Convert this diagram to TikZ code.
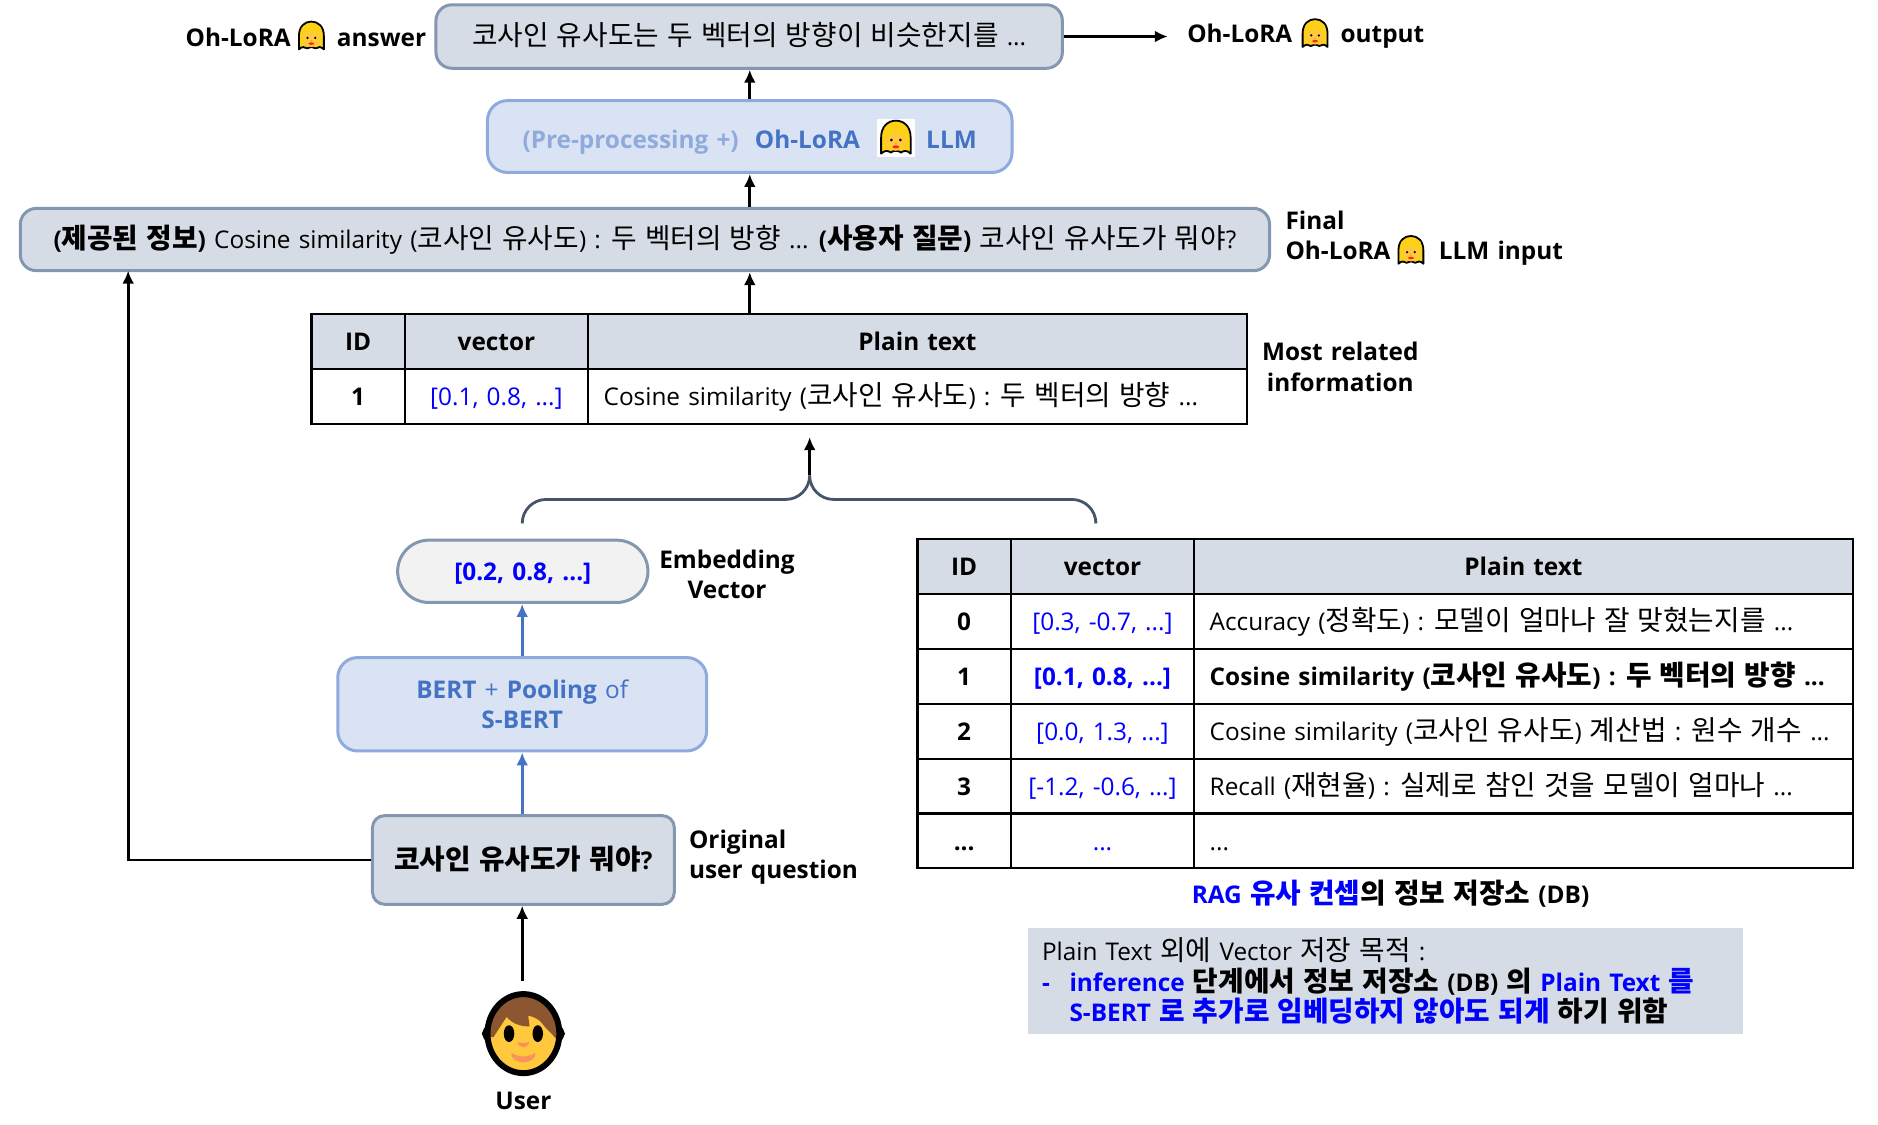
\documentclass[tikz,border=0pt]{standalone}
\usepackage{fontspec}
\setmainfont{Open Sans}[WordSpace=1.3]
\newfontfamily\hangulfam{Noto Sans CJK KR}[Scale=1.14]
\usetikzlibrary{arrows.meta}

% Hangul runs switch to the CJK family
\chardef\hangulclass=7
\count255="AC00
\loop
    \XeTeXcharclass\count255=\hangulclass
    \ifnum\count255<"D7A3
    \advance\count255 by 1
\repeat
\XeTeXinterchartoks 0 \hangulclass = {\begingroup\hangulfam}
\XeTeXinterchartoks 4095 \hangulclass = {\begingroup\hangulfam}
\XeTeXinterchartoks \hangulclass 0 = {\endgroup}
\XeTeXinterchartoks \hangulclass 4095 = {\endgroup}
\XeTeXinterchartokenstate=1

\definecolor{slatefill}{HTML}{D6DCE5}
\definecolor{slateline}{HTML}{8497B0}
\definecolor{paleblue}{HTML}{DAE3F3}
\definecolor{midblue}{HTML}{8FAADC}
\definecolor{deepblue}{HTML}{4472C4}
\definecolor{purered}{HTML}{0000FF}
\definecolor{bracecolor}{HTML}{44546A}
\definecolor{hairyellow}{HTML}{FCD116}
\definecolor{skinyellow}{HTML}{FFC83D}
\definecolor{skinorange}{HTML}{F7945A}
\definecolor{hairbrown}{HTML}{8C5730}

\tikzset{
    every node/.style={font=\fontsize{12.2}{15.3}\selectfont},
    oneline/.style={text height=10pt, text depth=.7pt},
    lbl/.style={inner sep=0pt, font=\fontsize{12.2}{15.3}\selectfont\bfseries, align=center},
    lblone/.style={inner sep=0pt, font=\fontsize{12.2}{15.3}\selectfont\bfseries, oneline},
    slatebox/.style={draw=slateline, fill=slatefill, line width=1.5pt, rounded corners=8pt, inner sep=0pt, oneline},
    bluebox/.style={draw=midblue, fill=paleblue, line width=1.5pt, rounded corners=10pt, inner sep=0pt},
    idcol/.style={draw=black, line width=1.1pt, inner sep=0pt, minimum width=46.8pt, minimum height=27.5pt, oneline},
    vectorcol/.style={draw=black, line width=1.1pt, inner sep=0pt, minimum width=91.8pt, minimum height=27.5pt, oneline},
    plaincol/.style={draw=black, line width=1.1pt, inner ysep=0pt, inner xsep=7.8pt, text width=314.4pt, align=flush left, minimum height=27.5pt, oneline},
    headcell/.style={fill=slatefill, font=\fontsize{12.2}{15.3}\selectfont\bfseries},
    arrowblk/.style={-{Latex[length=6.5pt,width=6pt]}, line width=1.4pt},
    arrowblue/.style={-{Latex[length=6.5pt,width=6pt]}, line width=1.4pt, draw=deepblue},
    pics/ohface/.style={code={
        \draw[fill=hairyellow, line width=.9pt, line join=round] (-13,14) -- (-13,0) .. controls (-13,-10) and (-7,-15) .. (0,-15) .. controls (7,-15) and (13,-10) .. (13,0) -- (13,14) .. controls (10,11) and (7,11) .. (4.5,13) .. controls (2,11) and (-2,11) .. (-4.5,13) .. controls (-7,11) and (-10,11) .. (-13,14) -- cycle;
        \fill[skinyellow] (0,2.5) circle (9);
        \fill[hairyellow] (-10,3) .. controls (-8,-2) and (-3,-3) .. (0,-5) .. controls (3,-3) and (8,-2) .. (10,3) -- (10,-9) -- (-10,-9) -- cycle;
        \fill (-4,2) circle (1.3);
        \fill (4,2) circle (1.3);
        \fill[skinorange] (0,5) circle (1);
        \fill[red!70!orange] (0,8) ellipse (3 and 1.3);
    }},
    pics/userface/.style={code={
        \fill[skinyellow, draw=black, line width=3pt] (-28,0) circle (4);
        \fill[skinyellow, draw=black, line width=3pt] (28,0) circle (4);
        \begin{scope}
            \clip (0,0) ellipse (30 and 33);
            \fill[skinyellow] (-35,-40) rectangle (35,40);
            \fill[hairbrown] (-25,3) -- (-14,-14) .. controls (-9,-8) and (-2,-6) .. (5,-6) .. controls (5,-10) and (4,-12) .. (4,-15) .. controls (10,-14) and (14,-11) .. (16,-8) .. controls (19,-4) and (24,0) .. (27,4) -- (35,4) -- (35,-40) -- (-35,-40) -- (-35,3) -- cycle;
        \end{scope}
        \draw[line width=3pt] (0,0) ellipse (30 and 33);
        \fill (-12,0) ellipse (4.4 and 7);
        \fill (12,0) ellipse (4.4 and 7);
        \fill[skinorange] (-5,7) .. controls (-2,8) and (2,8) .. (5,7) .. controls (3,13) and (-3,13) .. (-5,7) -- cycle;
        \fill[skinorange] (-10,16) .. controls (-4,20) and (4,20) .. (10,16) .. controls (11,20) and (6,24) .. (0,24) .. controls (-6,24) and (-11,20) .. (-10,16) -- cycle;
    }},
}

\begin{document}
\begin{tikzpicture}[x=0.6pt, y=-0.6pt]
    \useasboundingbox (0,0) rectangle (1568,938.5);

    % answer and LLM boxes
    \node[slatebox, minimum width=313.8pt, minimum height=31.8pt] (answer) at (625.5,30.5) {코사인 유사도는 두 벡터의 방향이 비슷한지를 ...};
    \node[bluebox, minimum width=262.8pt, minimum height=36pt] (llm) at (626,114) {};
    \node[lblone, anchor=west, text=midblue] (llmpre) at (436,116) {(Pre-processing +)};
    \node[lblone, anchor=west, text=deepblue] (llmoh) at (630,116) {Oh-LoRA};
    \node[anchor=center, fill=white, inner sep=0pt, minimum size=19.2pt] (llmemoji) at (748,115) {};
    \pic[scale=.95] at (748,115) {ohface};
    \node[lblone, anchor=west, text=deepblue] (llmname) at (773,116) {LLM};

    \node[lblone, anchor=east] (ansoh) at (243,31) {Oh-LoRA};
    \pic[scale=.8] at (260,30) {ohface};
    \node[lblone, anchor=west] (answord) at (281,31) {answer};

    \node[lblone, anchor=west] (outoh) at (991,28) {Oh-LoRA};
    \pic[scale=.8] at (1098,28) {ohface};
    \node[lblone, anchor=west] (outword) at (1119,28) {output};

    % final input
    \node[slatebox, minimum width=625.8pt, minimum height=31.2pt] (input) at (538.5,200) {\textbf{(제공된 정보)} Cosine similarity (코사인 유사도) : 두 벡터의 방향 ... \textbf{(사용자 질문)} 코사인 유사도가 뭐야?};
    \node[lblone, anchor=west] (finalword) at (1073,184) {Final};
    \node[lblone, anchor=west] (finaloh) at (1073,209) {Oh-LoRA};
    \pic[scale=.8] at (1178,209) {ohface};
    \node[lblone, anchor=west] (finalllm) at (1201,209) {LLM input};

    % most related table
    \node[idcol, headcell] (infoidh) at (299,285) {ID};
    \node[vectorcol, headcell] (infovech) at (414.5,285) {vector};
    \node[plaincol, headcell, align=center] (infoplainh) at (766,285) {Plain text};
    \node[idcol, font=\fontsize{12.2}{15.3}\selectfont\bfseries] (infoid) at (299,331) {1};
    \node[vectorcol, text=purered] (infovec) at (414.5,331) {[0.1, 0.8, ...]};
    \node[plaincol] (infoplain) at (766,331) {Cosine similarity (코사인 유사도) : 두 벡터의 방향 ...};
    \node[lbl] (relatedword) at (1119,306.5) {Most related\\information};

    % question side
    \node[draw=slateline, fill=black!5, line width=1.5pt, rounded corners=15.6pt, inner sep=0pt, minimum width=125.4pt, minimum height=31.2pt, text=purered, oneline, font=\fontsize{12.2}{15.3}\selectfont\bfseries] (embed) at (436.5,477) {[0.2, 0.8, ...]};
    \node[lbl] (embedword) at (607,479.5) {Embedding\\Vector};
    \node[bluebox, minimum width=184.8pt, minimum height=46.8pt, align=center, text=deepblue, font=\fontsize{12.2}{15.3}\selectfont] (bert) at (436,588) {\textbf{BERT} + \textbf{Pooling} of\\\textbf{S-BERT}};
    \node[slatebox, rounded corners=6pt, minimum width=151.2pt, minimum height=44.4pt, font=\fontsize{12.2}{15.3}\selectfont\bfseries] (question) at (437,718) {코사인 유사도가 뭐야?};
    \node[lbl, anchor=west, align=left] (originalword) at (575,715.5) {Original\\user question};

    \pic at (437,863) {userface};
    \node[lblone] (userword) at (437,919) {User};
    \coordinate (usertop) at (436,819);

    % DB table
    \node[idcol, headcell] (dbidh) at (805,473) {ID};
    \node[vectorcol, headcell] (dbvech) at (920.5,473) {vector};
    \node[plaincol, headcell, align=center] (dbplainh) at (1272,473) {Plain text};
    \foreach \rowy/\rowid/\rowvec/\rowtext in {
        519/0/{[0.3, -0.7, ...]}/{Accuracy (정확도) : 모델이 얼마나 잘 맞혔는지를 ...},
        565/1/{\textbf{[0.1, 0.8, ...]}}/{\textbf{Cosine similarity (코사인 유사도) : 두 벡터의 방향 ...}},
        610.5/2/{[0.0, 1.3, ...]}/{Cosine similarity (코사인 유사도) 계산법 : 원수 개수 ...},
        656.5/3/{[-1.2, -0.6, ...]}/{Recall (재현율) : 실제로 참인 것을 모델이 얼마나 ...},
        702/4/{...}/{...}}
    {
        \node[idcol, font=\fontsize{12.2}{15.3}\selectfont\bfseries] (dbid\rowid) at (805,\rowy) {\ifnum\rowid=4 ...\else\rowid\fi};
        \node[vectorcol, text=purered] (dbvec\rowid) at (920.5,\rowy) {\rowvec};
        \node[plaincol] (dbplain\rowid) at (1272,\rowy) {\rowtext};
    }
    \node[lblone] (dbword) at (1161,747) {\textcolor{purered}{RAG 유사 컨셉}의 정보 저장소 (DB)};

    % note
    \node[fill=slatefill, inner xsep=7.2pt, inner ysep=0pt, text width=343.8pt, minimum height=53.4pt, align=flush left] (note) at (1156.5,819) {Plain Text 외에 Vector 저장 목적 :\\\textbf{\makebox[13.8pt][l]{\textcolor{purered}{-}}\textcolor{purered}{inference} 단계에서 정보 저장소 (DB) 의 \textcolor{purered}{Plain Text 를}}\\\hspace*{13.8pt}\textbf{\textcolor{purered}{S-BERT 로 추가로 임베딩하지 않아도 되게} 하기 위함}};

    % brace
    \coordinate (braceleft) at (436,436);
    \coordinate (braceright) at (915,436);
    \coordinate (bracemid) at (676,417);
    \coordinate (merge) at (676,397);
    \coordinate (mergetop) at (676,365);
    \draw[draw=bracecolor, line width=1.4pt, rounded corners=12pt] (braceleft) -- (braceleft |- bracemid) -- (bracemid) -- (merge);
    \draw[draw=bracecolor, line width=1.4pt, rounded corners=12pt] (braceright) -- (braceright |- bracemid) -- (bracemid) -- (merge);

    % arrows
    \draw[arrowblk] (merge) -- (mergetop);
    \draw[arrowblk] (llm.south |- infoplainh.north) -- (llm.south |- input.south);
    \draw[arrowblk] (llm.south |- input.north) -- (llm.south);
    \draw[arrowblk] (llm.north) -- (llm.north |- answer.south);
    \draw[arrowblk, shorten >=9.6pt] (answer.east) -- (answer.east -| outoh.west);
    \coordinate (feedtop) at (107,226);
    \draw[arrowblk] (question.west) -| (feedtop);
    \draw[arrowblue] (bert.north) -- (bert.north |- embed.south);
    \draw[arrowblue] (bert.north |- question.north) -- (bert.south);
    \draw[arrowblk] (usertop) -- (usertop |- question.south);
\end{tikzpicture}
\end{document}
